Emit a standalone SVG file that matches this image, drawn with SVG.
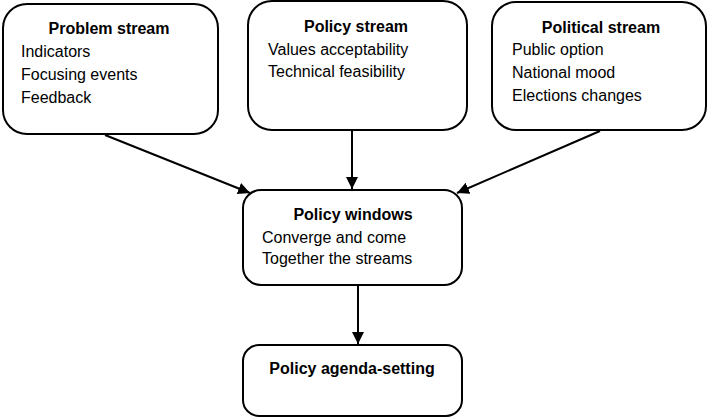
<svg xmlns="http://www.w3.org/2000/svg" width="710" height="418" viewBox="0 0 710 418">
<style>
.box{fill:#fff;stroke:#000;stroke-width:2}
.t{font-family:"Liberation Sans",Arial,sans-serif;font-size:16px;fill:#000}
.b{font-weight:bold;text-anchor:middle}
.c{stroke:#000;stroke-width:2;fill:none;marker-end:url(#ah)}
</style>
<defs>
<marker id="ah" viewBox="0 0 10 10" refX="10" refY="5" markerWidth="6" markerHeight="6" orient="auto" markerUnits="strokeWidth">
<path d="M0,0 L10,5 L0,10 z" fill="#000"/>
</marker>
</defs>
<rect width="710" height="418" fill="#fff"/>
<g id="connectors">
<line class="c" x1="105" y1="135" x2="250" y2="193"/>
<line class="c" x1="352" y1="131" x2="352" y2="189"/>
<line class="c" x1="600" y1="131" x2="457" y2="193"/>
<line class="c" x1="358" y1="286" x2="358" y2="344"/>
</g>
<g id="problem">
<rect class="box" x="3" y="4" width="215" height="130" rx="24"/>
<text class="t b" x="109" y="34">Problem stream</text>
<text class="t" x="21" y="57">Indicators</text>
<text class="t" x="21" y="80">Focusing events</text>
<text class="t" x="21" y="103">Feedback</text>
</g>
<g id="policy">
<rect class="box" x="248" y="1" width="219" height="129" rx="24"/>
<text class="t b" x="356" y="32">Policy stream</text>
<text class="t" x="268" y="55">Values acceptability</text>
<text class="t" x="268" y="77">Technical feasibility</text>
</g>
<g id="political">
<rect class="box" x="492" y="2" width="214" height="128" rx="24"/>
<text class="t b" x="601" y="33">Political stream</text>
<text class="t" x="512" y="55">Public option</text>
<text class="t" x="512" y="78">National mood</text>
<text class="t" x="512" y="101">Elections changes</text>
</g>
<g id="windows">
<rect class="box" x="243" y="190" width="219" height="95" rx="18"/>
<text class="t b" x="353" y="220">Policy windows</text>
<text class="t" x="262" y="243">Converge and come</text>
<text class="t" x="262" y="264">Together the streams</text>
</g>
<g id="agenda">
<rect class="box" x="243" y="345" width="219" height="71" rx="16"/>
<text class="t b" x="352" y="374">Policy agenda-setting</text>
</g>
</svg>
